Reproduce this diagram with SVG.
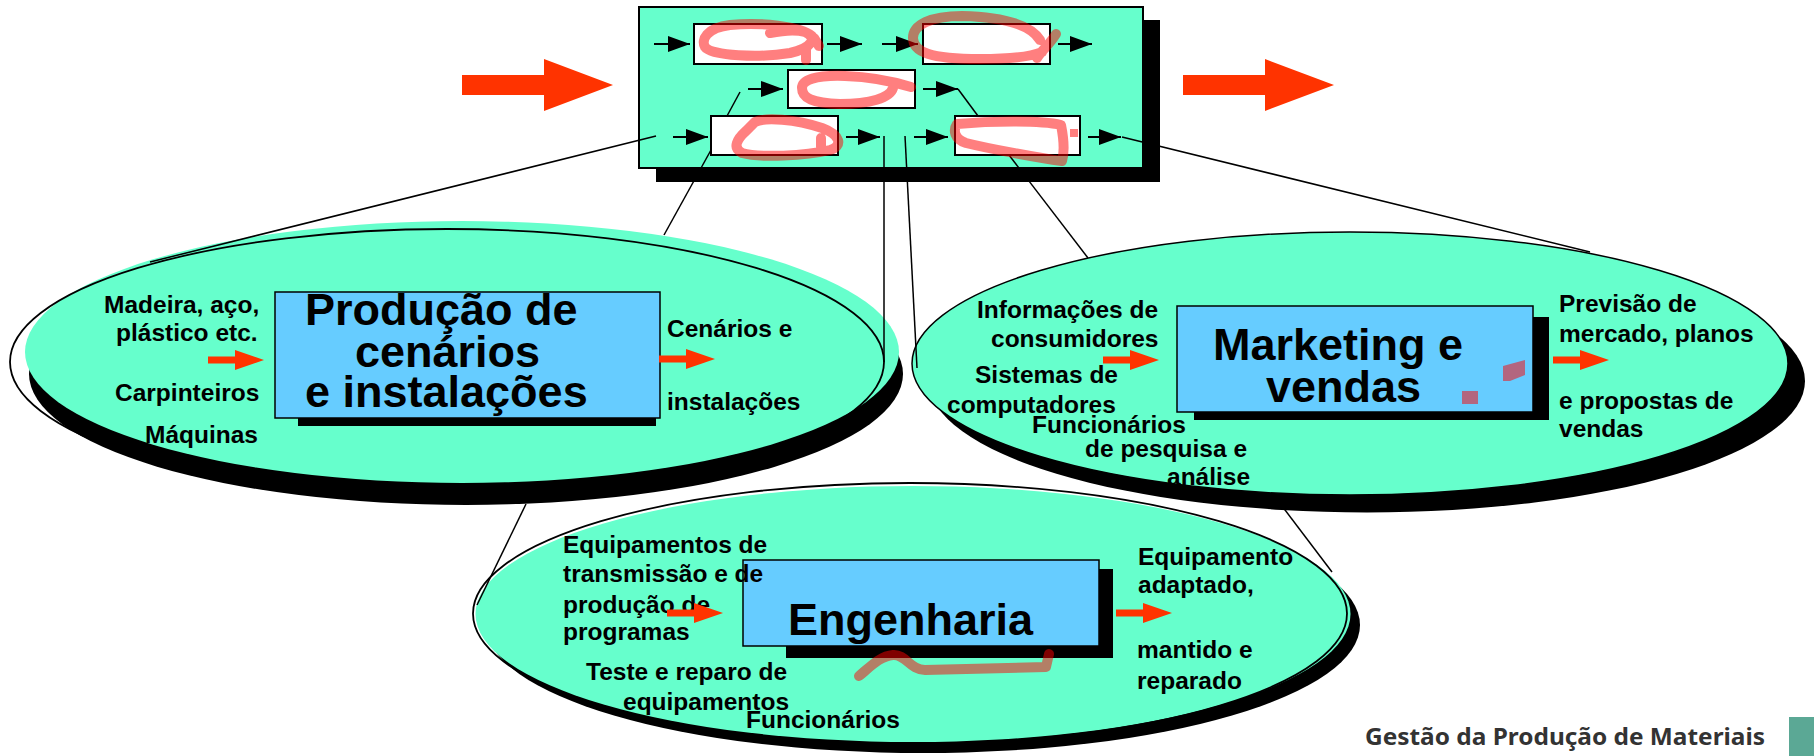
<svg xmlns="http://www.w3.org/2000/svg" xmlns:xlink="http://www.w3.org/1999/xlink" width="1814" height="756" viewBox="0 0 1814 756">
<style>
.lbl{font-family:"Liberation Sans",Arial,sans-serif;font-weight:bold;font-size:24.5px;fill:#000}
.ttl{font-family:"Liberation Sans",Arial,sans-serif;font-weight:bold;font-size:45px;fill:#000}
.teal{fill:#66FFCC}
.blk{fill:#000}
.outl{fill:none;stroke:#000;stroke-width:1.8}
.ibox{fill:#66CCFF;stroke:#000;stroke-width:1.5}
.wbox{fill:#fff;stroke:#000;stroke-width:2}
.conn{stroke:#000;stroke-width:1.5;fill:none}
.ar{stroke:#000;stroke-width:2;fill:none;marker-end:url(#ah)}
.scrib{fill:none;stroke:#FF0000;stroke-opacity:0.5;stroke-width:10;stroke-linecap:round;stroke-linejoin:round}
.scribf{fill:#FF0000;fill-opacity:0.5}
</style>
<defs>
<marker id="ah" viewBox="0 0 22 16" refX="22" refY="8" markerWidth="22" markerHeight="16" markerUnits="userSpaceOnUse" orient="auto"><path d="M0,0L22,8L0,16Z" fill="#000"/></marker>
<path id="ra" d="M0,-3.5H27V-10L56,0L27,10V3.5H0Z" fill="#FF3300"/>
</defs>
<rect width="1814" height="756" fill="#fff"/>

<g id="big-arrows">
<path d="M462,75H544V59L613,85L544,111V95H462Z" fill="#FF3300"/>
<path d="M1183,75H1265V59L1334,85L1265,111V95H1183Z" fill="#FF3300"/>
</g>

<g id="ellipse-engenharia">
<ellipse cx="923" cy="625" rx="437" ry="128" class="blk"/>
<ellipse cx="913" cy="614" rx="437.5" ry="128" class="teal"/>
<ellipse cx="910" cy="613.5" rx="437" ry="130.5" class="outl"/>
<rect x="786" y="569" width="327" height="89" class="blk"/>
<rect x="743" y="560" width="356" height="86" class="ibox"/>
<text x="788" y="635" class="ttl">Engenharia</text>
<text x="563" y="553" class="lbl">Equipamentos de</text>
<text x="563" y="582" class="lbl">transmissão e de</text>
<text x="563" y="613" class="lbl">produção de</text>
<text x="563" y="640" class="lbl">programas</text>
<text x="586" y="680" class="lbl">Teste e reparo de</text>
<text x="623" y="710" class="lbl">equipamentos</text>
<text x="746" y="728" class="lbl">Funcionários</text>
<text x="1138" y="565" class="lbl">Equipamento</text>
<text x="1138" y="593" class="lbl">adaptado,</text>
<text x="1137" y="658" class="lbl">mantido e</text>
<text x="1137" y="689" class="lbl">reparado</text>
<use xlink:href="#ra" x="667" y="613"/>
<use xlink:href="#ra" x="1116" y="613"/>
</g>

<g id="ellipse-producao">
<ellipse cx="466" cy="374" rx="437" ry="131" class="blk"/>
<ellipse cx="462" cy="352" rx="437" ry="131" class="teal"/>
<ellipse cx="447" cy="362" rx="437" ry="133" class="outl"/>
<rect x="298" y="300" width="358" height="126" class="blk"/>
<rect x="275" y="292" width="385" height="126" class="ibox"/>
<text x="305" y="325" class="ttl">Produção de</text>
<text x="355" y="367" class="ttl">cenários</text>
<text x="305" y="407" class="ttl">e instalações</text>
<text x="104" y="313" class="lbl">Madeira, aço,</text>
<text x="116" y="341" class="lbl">plástico etc.</text>
<text x="115" y="401" class="lbl">Carpinteiros</text>
<text x="145" y="443" class="lbl">Máquinas</text>
<text x="667" y="337" class="lbl">Cenários e</text>
<text x="667" y="410" class="lbl">instalações</text>
<use xlink:href="#ra" x="208" y="360"/>
<use xlink:href="#ra" x="659" y="359"/>
</g>

<g id="ellipse-marketing">
<ellipse cx="1367" cy="381" rx="438" ry="131.5" class="blk"/>
<ellipse cx="1350" cy="363.5" rx="438" ry="131.5" class="teal" stroke="#000" stroke-width="1.5"/>
<rect x="1194" y="317" width="355" height="103" class="blk"/>
<rect x="1177" y="306" width="356" height="106" class="ibox"/>
<text x="1213" y="360" class="ttl">Marketing e</text>
<text x="1266" y="402" class="ttl">vendas</text>
<text x="977" y="318" class="lbl">Informações de</text>
<text x="991" y="347" class="lbl">consumidores</text>
<text x="975" y="383" class="lbl">Sistemas de</text>
<text x="947" y="413" class="lbl">computadores</text>
<text x="1032" y="433" class="lbl">Funcionários</text>
<text x="1085" y="457" class="lbl">de pesquisa e</text>
<text x="1167" y="485" class="lbl">análise</text>
<text x="1559" y="312" class="lbl">Previsão de</text>
<text x="1559" y="342" class="lbl">mercado, planos</text>
<text x="1559" y="409" class="lbl">e propostas de</text>
<text x="1559" y="437" class="lbl">vendas</text>
<use xlink:href="#ra" x="1103" y="360"/>
<use xlink:href="#ra" x="1553" y="360"/>
</g>

<g id="process-box">
<rect x="656" y="20" width="504" height="162" class="blk"/>
<rect x="639" y="7" width="504" height="161" class="teal" stroke="#000" stroke-width="2"/>
<rect x="694" y="24" width="128" height="40" class="wbox"/>
<rect x="923" y="24" width="127" height="40" class="wbox"/>
<rect x="788" y="70" width="127" height="38" class="wbox"/>
<rect x="711" y="116" width="127" height="39" class="wbox"/>
<rect x="955" y="116" width="125" height="39" class="wbox"/>
<line x1="654" y1="44" x2="690" y2="44" class="ar"/>
<line x1="827" y1="44" x2="862" y2="44" class="ar"/>
<line x1="882" y1="44" x2="918" y2="44" class="ar"/>
<line x1="1058" y1="44" x2="1092" y2="44" class="ar"/>
<line x1="748" y1="89" x2="783" y2="89" class="ar"/>
<line x1="923" y1="89" x2="958" y2="89" class="ar"/>
<line x1="673" y1="137" x2="708" y2="137" class="ar"/>
<line x1="846" y1="137" x2="880" y2="137" class="ar"/>
<line x1="914" y1="137" x2="948" y2="137" class="ar"/>
<line x1="1088" y1="137" x2="1121" y2="137" class="ar"/>
<line x1="740" y1="92" x2="727" y2="116" class="conn"/>
<line x1="958" y1="89" x2="978" y2="116" class="conn"/>
</g>

<g id="connectors">
<line x1="656" y1="136" x2="150" y2="262" class="conn"/>
<line x1="711" y1="150" x2="664" y2="235" class="conn"/>
<line x1="884" y1="136" x2="884" y2="362" class="conn"/>
<line x1="905" y1="136" x2="917" y2="368" class="conn"/>
<line x1="1009" y1="155" x2="1088" y2="258" class="conn"/>
<line x1="1122" y1="137" x2="1590" y2="252" class="conn"/>
<line x1="526" y1="504" x2="477" y2="605" class="conn"/>
<line x1="1282" y1="506" x2="1332" y2="572" class="conn"/>
</g>

<g id="scribbles">
<path class="scrib" d="M812,36 C800,26 760,22 730,25 C706,28 701,40 705,47 C711,56 760,58 790,53 C812,48 818,38 805,32 C795,29 780,31 770,33 M806,48 L806,60 M814,38 L819,46"/>
<path class="scrib" d="M1056,34 C1050,44 1042,50 1037,58 M1040,40 C1030,24 1000,17 962,16 C930,16 913,25 913,38 C913,52 930,59 980,59 C1010,59 1030,57 1042,52"/>
<path class="scrib" d="M911,87 C895,82 875,77 845,76 C815,75 802,80 802,88 C802,98 812,103 840,104 C870,104 890,98 893,88"/>
<path class="scrib" d="M755,122 C765,117 795,119 822,128 C841,135 843,146 830,150 C805,156 760,158 742,153 C732,148 737,139 746,131 Z M821,138 L821,147"/>
<path class="scrib" d="M957,124 C990,121 1040,120 1061,125 C1064,140 1064,154 1062,161 C1040,158 990,149 966,143 C954,139 953,130 957,124 Z"/>
<rect class="scribf" x="1070" y="129" width="8" height="8"/>
<path class="scrib" d="M859,676 C870,667 880,656 893,655 C906,654 910,670 925,670 L1046,667 L1049,654"/>
<path class="scribf" d="M1503,366 L1525,360 L1525,375 L1510,381 L1503,381 Z"/>
<rect class="scribf" x="1462" y="391" width="16" height="13"/>
</g>

<g id="footer">
<text x="1365" y="745" font-family="'Noto Sans','Open Sans',sans-serif" font-weight="bold" font-size="24" fill="#333" textLength="400" lengthAdjust="spacingAndGlyphs">Gestão da Produção de Materiais</text>
<rect x="1789" y="717" width="25" height="39" fill="#5BA895"/>
</g>
</svg>
